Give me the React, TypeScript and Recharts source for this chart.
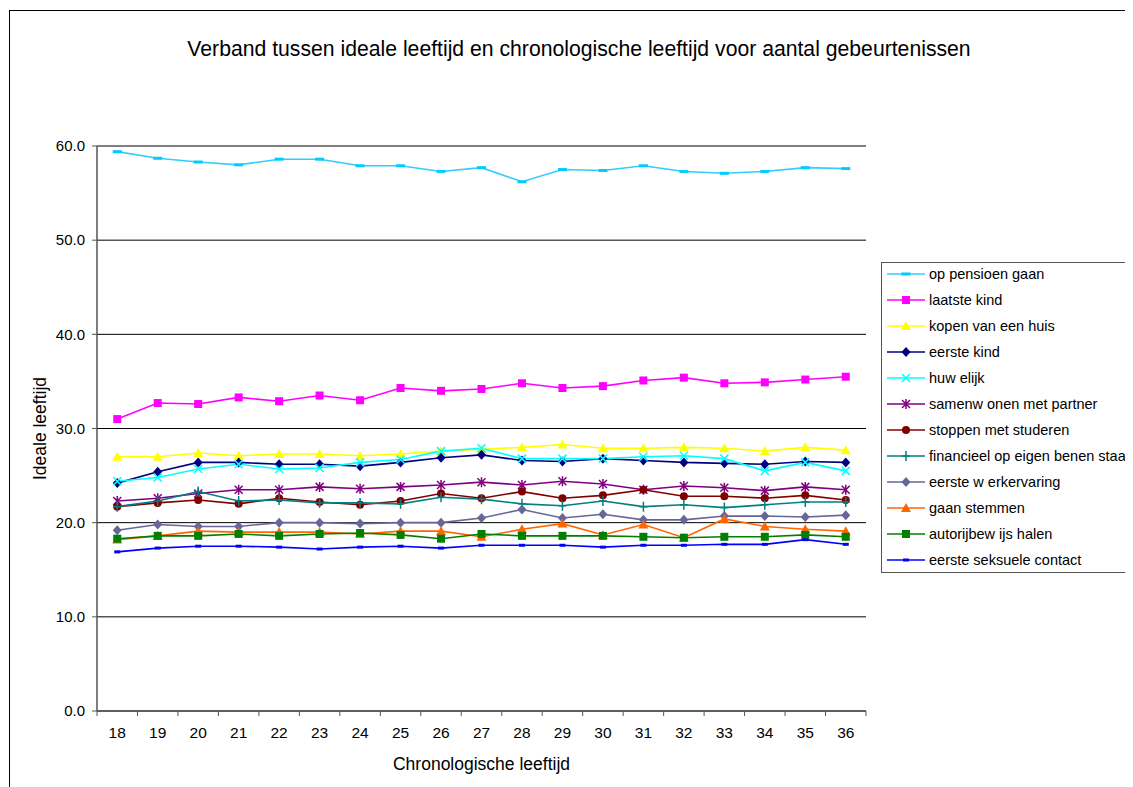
import React, { useLayoutEffect } from "react";
import {
  CartesianGrid,
  Line,
  LineChart,
  XAxis,
  YAxis,
} from "recharts";

const ages = [18, 19, 20, 21, 22, 23, 24, 25, 26, 27, 28, 29, 30, 31, 32, 33, 34, 35, 36];

const opPensioen = [59.4, 58.7, 58.3, 58.0, 58.6, 58.6, 57.9, 57.9, 57.3, 57.7, 56.2, 57.5, 57.4, 57.9, 57.3, 57.1, 57.3, 57.7, 57.6];
const laatsteKind = [31.0, 32.7, 32.6, 33.3, 32.9, 33.5, 33.0, 34.3, 34.0, 34.2, 34.8, 34.3, 34.5, 35.1, 35.4, 34.8, 34.9, 35.2, 35.5];
const kopenHuis = [27.0, 27.0, 27.4, 27.1, 27.3, 27.3, 27.1, 27.3, 27.6, 27.8, 28.0, 28.3, 27.9, 27.9, 28.0, 27.9, 27.6, 28.0, 27.7];
const eersteKind = [24.2, 25.4, 26.4, 26.4, 26.2, 26.2, 26.0, 26.4, 26.9, 27.2, 26.6, 26.5, 26.8, 26.6, 26.4, 26.3, 26.2, 26.5, 26.4];
const huwelijk = [24.4, 24.8, 25.7, 26.2, 25.7, 25.8, 26.4, 26.7, 27.6, 27.9, 26.8, 26.8, 26.8, 27.0, 27.1, 26.8, 25.5, 26.4, 25.5];
const samenwonen = [22.3, 22.6, 23.1, 23.5, 23.5, 23.8, 23.6, 23.8, 24.0, 24.3, 24.0, 24.4, 24.1, 23.5, 23.9, 23.7, 23.4, 23.8, 23.5];
const stoppenStuderen = [21.7, 22.1, 22.4, 22.0, 22.6, 22.2, 21.9, 22.3, 23.1, 22.6, 23.3, 22.6, 22.9, 23.5, 22.8, 22.8, 22.6, 22.9, 22.4];
const financieel = [21.7, 22.3, 23.3, 22.3, 22.4, 22.1, 22.1, 22.0, 22.7, 22.5, 22.0, 21.8, 22.3, 21.7, 21.9, 21.6, 21.9, 22.2, 22.2];
const werkervaring = [19.2, 19.8, 19.6, 19.6, 20.0, 20.0, 19.9, 20.0, 20.0, 20.5, 21.4, 20.5, 20.9, 20.3, 20.3, 20.7, 20.7, 20.6, 20.8];
const gaanStemmen = [18.2, 18.6, 19.1, 19.0, 19.0, 19.0, 18.8, 19.1, 19.1, 18.5, 19.3, 19.9, 18.7, 19.8, 18.4, 20.4, 19.6, 19.3, 19.1];
const autorijbewijs = [18.3, 18.6, 18.6, 18.8, 18.6, 18.8, 18.9, 18.7, 18.3, 18.8, 18.6, 18.6, 18.6, 18.5, 18.4, 18.5, 18.5, 18.7, 18.5];
const seksueelContact = [16.9, 17.3, 17.5, 17.5, 17.4, 17.2, 17.4, 17.5, 17.3, 17.6, 17.6, 17.6, 17.4, 17.6, 17.6, 17.7, 17.7, 18.2, 17.7];

const yTicks = [0, 10, 20, 30, 40, 50, 60];

type Shape = "dash" | "square" | "triangle" | "diamond" | "x" | "star" | "circle" | "plus" | "smalldash";

const series: { key: string; name: string; values: number[]; line: string; fill: string; shape: Shape }[] = [
  { key: "a", name: "op pensioen gaan", values: opPensioen, line: "#33CCFF", fill: "#00CCFF", shape: "dash" },
  { key: "b", name: "laatste kind", values: laatsteKind, line: "#FF00FF", fill: "#FF00FF", shape: "square" },
  { key: "c", name: "kopen van een huis", values: kopenHuis, line: "#FFFF00", fill: "#FFFF00", shape: "triangle" },
  { key: "d", name: "eerste kind", values: eersteKind, line: "#000080", fill: "#000080", shape: "diamond" },
  { key: "e", name: "huw elijk", values: huwelijk, line: "#00FFFF", fill: "#00FFFF", shape: "x" },
  { key: "f", name: "samenw onen met partner", values: samenwonen, line: "#800080", fill: "#800080", shape: "star" },
  { key: "g", name: "stoppen met studeren", values: stoppenStuderen, line: "#800000", fill: "#800000", shape: "circle" },
  { key: "h", name: "financieel op eigen benen staan", values: financieel, line: "#008080", fill: "#008080", shape: "plus" },
  { key: "i", name: "eerste w erkervaring", values: werkervaring, line: "#666699", fill: "#666699", shape: "diamond" },
  { key: "j", name: "gaan stemmen", values: gaanStemmen, line: "#FF6600", fill: "#FF6600", shape: "triangle" },
  { key: "k", name: "autorijbew ijs halen", values: autorijbewijs, line: "#008000", fill: "#008000", shape: "square" },
  { key: "l", name: "eerste seksuele contact", values: seksueelContact, line: "#0000FF", fill: "#0000FF", shape: "smalldash" },
];

const data = ages.map((age, i) => {
  const row: Record<string, number> = { age };
  series.forEach((s) => {
    row[s.key] = s.values[i];
  });
  return row;
});

// chart geometry (chart coordinates, page minus the 8px body margin)
const CHART_W = 1125;
const CHART_H = 779;
const PLOT_LEFT = 89;
const PLOT_RIGHT = 858;
const HALF_BAND = (PLOT_RIGHT - PLOT_LEFT) / ages.length / 2;

function marker(shape: Shape, color: string, cx: number, cy: number, key?: string | number) {
  switch (shape) {
    case "dash":
      return <rect key={key} x={cx - 4.5} y={cy - 1.5} width={9} height={3} fill={color} />;
    case "smalldash":
      return <rect key={key} x={cx - 3} y={cy - 1.5} width={6} height={3} fill={color} />;
    case "square":
      return <rect key={key} x={cx - 4} y={cy - 4} width={8} height={8} fill={color} />;
    case "triangle":
      return <polygon key={key} points={`${cx},${cy - 5} ${cx + 5},${cy + 4} ${cx - 5},${cy + 4}`} fill={color} />;
    case "diamond":
      return <polygon key={key} points={`${cx},${cy - 5} ${cx + 4.5},${cy} ${cx},${cy + 5} ${cx - 4.5},${cy}`} fill={color} />;
    case "circle":
      return <circle key={key} cx={cx} cy={cy} r={4} fill={color} />;
    case "x":
      return (
        <path key={key} d={`M${cx - 4},${cy - 4}L${cx + 4},${cy + 4}M${cx - 4},${cy + 4}L${cx + 4},${cy - 4}`} stroke={color} strokeWidth={1.5} />
      );
    case "plus":
      return (
        <path key={key} d={`M${cx - 4},${cy}L${cx + 4},${cy}M${cx},${cy - 5}L${cx},${cy + 5}`} stroke={color} strokeWidth={1.5} />
      );
    case "star":
      return (
        <path
          key={key}
          d={`M${cx - 4},${cy - 4}L${cx + 4},${cy + 4}M${cx - 4},${cy + 4}L${cx + 4},${cy - 4}M${cx},${cy - 5}L${cx},${cy + 5}`}
          stroke={color}
          strokeWidth={1.5}
        />
      );
  }
  return null;
}

function XTick(props: any) {
  const { x, y, payload, index } = props;
  const top = y;
  return (
    <g>
      <line x1={x - HALF_BAND} x2={x - HALF_BAND} y1={top} y2={top + 5} stroke="#555" />
      {index === ages.length - 1 && (
        <line x1={x + HALF_BAND} x2={x + HALF_BAND} y1={top} y2={top + 5} stroke="#555" />
      )}
      <text x={x} y={top + 27} textAnchor="middle" fontSize={15.5} fill="#000">
        {payload.value}
      </text>
    </g>
  );
}

export default function App() {
  // the chart fills the window edge to edge, like the cropped original
  useLayoutEffect(() => {
    document.documentElement.style.overflow = "hidden";
    document.body.style.overflow = "hidden";
  }, []);

  const font = "'Liberation Sans', Arial, sans-serif";
  return (
    <div
      style={{
        position: "relative",
        width: CHART_W,
        height: CHART_H,
        overflow: "hidden",
        fontFamily: font,
      }}
    >
      <div
        style={{
          position: "absolute",
          left: 1,
          top: 2,
          width: CHART_W,
          height: CHART_H,
          borderLeft: "1px solid #000",
          borderTop: "1px solid #000",
        }}
      />
      <div
        style={{
          position: "absolute",
          left: 0,
          width: 1142,
          top: 29,
          textAlign: "center",
          fontSize: 21.2,
          color: "#000",
        }}
      >
        Verband tussen ideale leeftijd en chronologische leeftijd voor aantal gebeurtenissen
      </div>
      <div style={{ position: "absolute", left: 0, top: 0 }}>
        <LineChart
          width={CHART_W}
          height={CHART_H}
          data={data}
          margin={{ top: 138, right: CHART_W - PLOT_RIGHT, left: 0, bottom: 16 }}
        >
          <CartesianGrid vertical={false} stroke="#000" strokeWidth={1} />
          <XAxis
            dataKey="age"
            height={60}
            padding={{ left: HALF_BAND, right: HALF_BAND }}
            axisLine={{ stroke: "#555", strokeWidth: 1.5 }}
            tickLine={false}
            tickSize={0}
            tickMargin={0}
            tick={<XTick />}
            interval={0}
            label={{
              value: "Chronologische leeftijd",
              position: "insideBottom",
              offset: 1,
              fontSize: 17.5,
              fill: "#000",
            }}
          />
          <XAxis xAxisId="top" orientation="top" dataKey="age" height={0} tick={false} tickLine={false} axisLine={{ stroke: "#999", strokeWidth: 1.5 }} />
          <YAxis
            width={PLOT_LEFT}
            domain={[0, 60]}
            ticks={yTicks}
            interval={0}
            tickFormatter={(v: number) => v.toFixed(1)}
            tickSize={5}
            tickMargin={7}
            axisLine={{ stroke: "#555", strokeWidth: 1.5 }}
            tickLine={{ stroke: "#555" }}
            tick={{ fontSize: 15, fill: "#000" }}
            label={{
              value: "Ideale leeftijd",
              angle: -90,
              position: "insideLeft",
              offset: 32,
              fontSize: 17.5,
              fill: "#000",
              style: { textAnchor: "middle" },
            }}
          />
          <YAxis yAxisId="right" orientation="right" width={0} tick={false} tickLine={false} axisLine={{ stroke: "#999", strokeWidth: 1.5 }} />
          {series.map((s) => (
            <Line
              key={s.key}
              dataKey={s.key}
              name={s.name}
              type="linear"
              stroke={s.line}
              strokeWidth={1.6}
              isAnimationActive={false}
              dot={(p: any) => marker(s.shape, s.fill, p.cx, p.cy, `${s.key}-${p.index}`)}
              activeDot={false}
            />
          ))}
        </LineChart>
      </div>
      <div
        style={{
          position: "absolute",
          left: 873,
          top: 254,
          width: 320,
          height: 311,
          border: "1px solid #555",
          boxSizing: "border-box",
          background: "#fff",
        }}
      >
        <div style={{ position: "relative", top: -2 }}>
          {series.map((s) => (
            <div key={s.key} style={{ display: "flex", alignItems: "center", height: 26, fontSize: 14.5, whiteSpace: "nowrap" }}>
              <svg width={46} height={14} style={{ flex: "none" }}>
                <line x1={5} x2={43} y1={7} y2={7} stroke={s.line} strokeWidth={1.6} />
                {marker(s.shape, s.fill, 24, 7)}
              </svg>
              <span style={{ marginLeft: 1 }}>{s.name}</span>
            </div>
          ))}
        </div>
      </div>
    </div>
  );
}
